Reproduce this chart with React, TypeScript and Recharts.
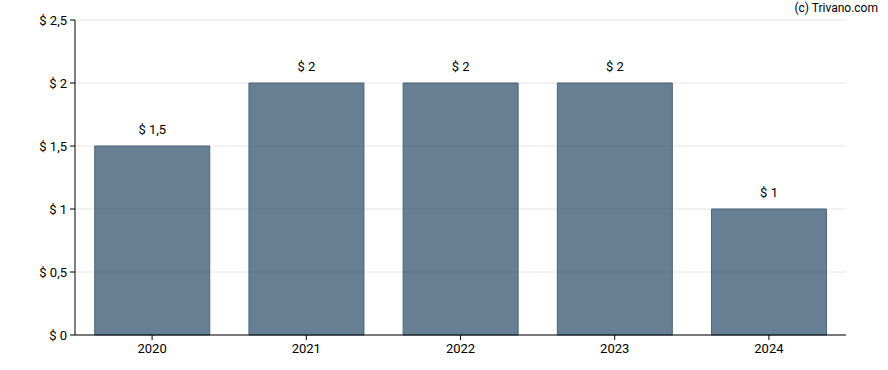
import React from 'react';
import { BarChart, Bar, XAxis, YAxis, CartesianGrid, LabelList } from 'recharts';

const years = ['2020', '2021', '2022', '2023', '2024'];
const dividends = [1.5, 2, 2, 2, 1];
const yTicks = [0, 0.5, 1, 1.5, 2, 2.5];

const data = years.map((y, i) => ({ year: y, value: dividends[i] }));

const fmt = (v: number) => `$ ${String(v).replace('.', ',')}`;

export default function App() {
  return (
    <div style={{ position: 'absolute', left: 0, top: 0, width: 888, height: 370, background: '#fff', fontFamily: 'Roboto, sans-serif' }}>
      <div style={{ position: 'absolute', right: 10, top: 1, fontSize: 12, color: '#000', fontFamily: 'Roboto, sans-serif' }}>(c) Trivano.com</div>
      <BarChart width={888} height={370} data={data} margin={{ top: 20, right: 42, bottom: 0, left: 0 }} barCategoryGap="12.8%">
        <CartesianGrid vertical={false} stroke="#e6e6e6" />
        <XAxis dataKey="year" height={35} axisLine={{ stroke: '#000' }} tickLine={{ stroke: '#000' }} tickSize={5} tickMargin={4} tick={{ fill: '#000', fontSize: 13 }} />
        <YAxis width={75} domain={[0, 2.5]} ticks={yTicks} tickFormatter={fmt} axisLine={{ stroke: '#000' }} tickLine={{ stroke: '#000' }} tickSize={5} tickMargin={3} tick={{ fill: '#000', fontSize: 13 }} interval={0} />
        <Bar dataKey="value" fill="#2e5069" fillOpacity={0.73} stroke="#4a6579" strokeWidth={1} isAnimationActive={false}>
          <LabelList dataKey="value" position="top" offset={12} formatter={(v: any) => fmt(Number(v))} style={{ fill: '#000', fontSize: 13 }} />
        </Bar>
      </BarChart>
    </div>
  );
}
